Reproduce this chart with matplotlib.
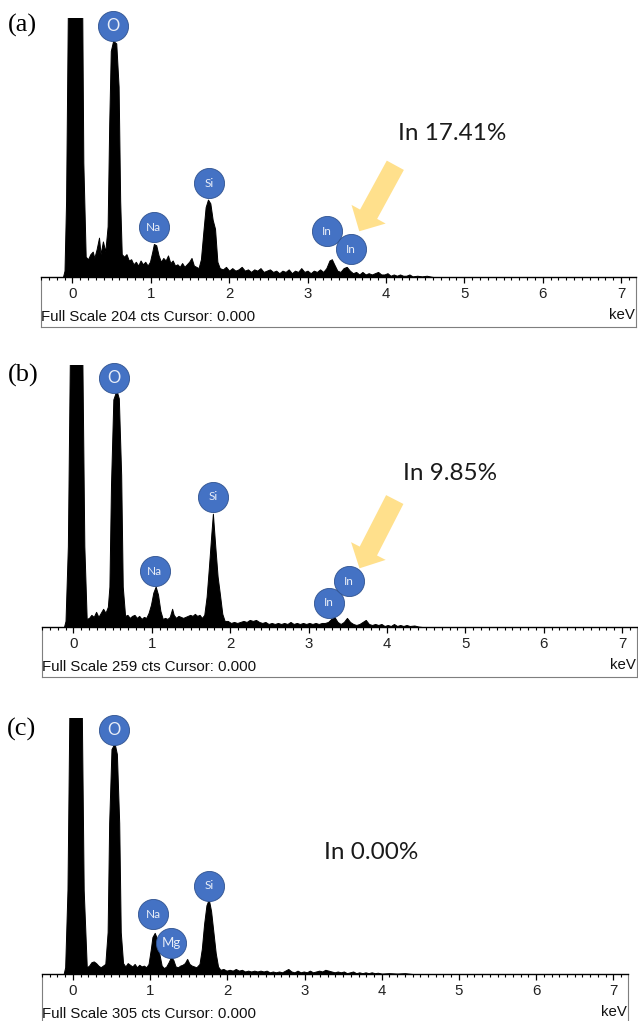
import matplotlib.pyplot as plt

plt.rcParams['font.family'] = 'Liberation Sans'

W, H = 638, 1021

# espectro EDS (a)
energia_a = [-0.12, -0.10, -0.08, -0.05, 0.12, 0.14, 0.17, 0.20, 0.23, 0.26, 0.28, 0.31, 0.34, 0.36, 0.39, 0.42,
             0.45, 0.47, 0.49, 0.52, 0.56, 0.59, 0.61, 0.63, 0.66, 0.69, 0.72, 0.75, 0.78, 0.81, 0.84, 0.87,
             0.90, 0.93, 0.96, 0.99, 1.02, 1.04, 1.07, 1.10, 1.13, 1.16, 1.19, 1.22, 1.25, 1.28, 1.31, 1.34,
             1.37, 1.40, 1.43, 1.46, 1.49, 1.52, 1.55, 1.58, 1.61, 1.64, 1.67, 1.70, 1.73, 1.76, 1.79, 1.82,
             1.85, 1.88, 1.92, 1.96, 2.00, 2.04, 2.08, 2.12, 2.16, 2.20, 2.24, 2.28, 2.32, 2.36, 2.40, 2.44,
             2.48, 2.52, 2.56, 2.60, 2.64, 2.68, 2.72, 2.76, 2.80, 2.84, 2.88, 2.92, 2.96, 3.00, 3.04, 3.08,
             3.12, 3.16, 3.20, 3.24, 3.28, 3.31, 3.34, 3.38, 3.42, 3.46, 3.50, 3.54, 3.58, 3.62, 3.66, 3.70,
             3.74, 3.78, 3.82, 3.86, 3.90, 3.94, 3.98, 4.02, 4.06, 4.10, 4.14, 4.18, 4.22, 4.26, 4.30, 4.34,
             4.40, 4.46, 4.52, 4.60]
cuentas_a = [0, 5, 60, 260, 260, 90, 16, 14, 18, 20, 15, 22, 31, 18, 28, 20,
             40, 120, 178, 186, 184, 150, 60, 18, 16, 18, 13, 14, 10, 12, 9, 13,
             10, 12, 9, 12, 20, 26, 25, 17, 12, 15, 13, 17, 11, 13, 9, 10,
             8, 11, 8, 10, 12, 15, 9, 8, 7, 14, 35, 55, 61, 58, 45, 38,
             12, 7, 6, 8, 5, 7, 5, 6, 8, 5, 6, 4, 6, 5, 7, 4,
             5, 6, 4, 5, 3, 5, 4, 6, 3, 5, 4, 7, 4, 5, 3, 5,
             4, 6, 4, 7, 13, 14, 10, 5, 4, 7, 8, 5, 3, 4, 2, 4,
             2, 3, 2, 3, 4, 2, 2, 3, 1, 2, 1, 2, 1, 1, 2, 0.5,
             1, 0.5, 1, 0]

# espectro EDS (b)
energia_b = [-0.12, -0.10, -0.07, -0.04, 0.11, 0.14, 0.17, 0.20, 0.23, 0.26, 0.29, 0.32, 0.35, 0.38, 0.41, 0.44,
             0.46, 0.48, 0.51, 0.55, 0.58, 0.61, 0.63, 0.66, 0.69, 0.72, 0.75, 0.78, 0.81, 0.84, 0.87, 0.90,
             0.93, 0.96, 0.99, 1.02, 1.05, 1.08, 1.11, 1.14, 1.17, 1.20, 1.23, 1.26, 1.28, 1.31, 1.34, 1.37,
             1.40, 1.43, 1.46, 1.49, 1.52, 1.55, 1.58, 1.61, 1.64, 1.67, 1.70, 1.73, 1.76, 1.78, 1.81, 1.84,
             1.87, 1.90, 1.93, 1.97, 2.01, 2.05, 2.09, 2.13, 2.17, 2.21, 2.25, 2.29, 2.33, 2.37, 2.41, 2.45,
             2.49, 2.53, 2.57, 2.61, 2.65, 2.69, 2.73, 2.77, 2.81, 2.85, 2.89, 2.93, 2.97, 3.01, 3.05, 3.09,
             3.13, 3.17, 3.21, 3.25, 3.29, 3.33, 3.37, 3.41, 3.45, 3.49, 3.53, 3.57, 3.61, 3.65, 3.69, 3.73,
             3.77, 3.81, 3.85, 3.89, 3.93, 3.97, 4.01, 4.05, 4.09, 4.13, 4.17, 4.21, 4.25, 4.29, 4.35, 4.40,
             4.45]
cuentas_b = [0, 6, 80, 300, 300, 80, 8, 9, 12, 10, 15, 10, 14, 18, 14, 20,
             40, 140, 225, 234, 226, 150, 40, 11, 12, 9, 11, 12, 9, 11, 8, 10,
             9, 14, 22, 34, 40, 32, 16, 8, 9, 8, 10, 18, 12, 9, 11, 10,
             9, 10, 11, 12, 11, 13, 11, 12, 9, 12, 30, 60, 92, 112, 80, 50,
             32, 13, 6, 6, 4, 5, 4, 5, 6, 5, 7, 6, 7, 5, 4, 5,
             3, 4, 3, 4, 3, 4, 3, 5, 3, 4, 3, 4, 3, 4, 3, 4,
             3, 4, 4, 5, 8, 10, 5, 3, 5, 9, 5, 3, 2, 3, 5, 7,
             3, 2, 3, 2, 3, 1, 2, 1, 3, 1, 2, 1, 2, 1, 1.5, 0.5,
             0]

# espectro EDS (c)
energia_c = [-0.12, -0.10, -0.07, -0.04, 0.11, 0.14, 0.18, 0.21, 0.24, 0.27, 0.30, 0.33, 0.36, 0.39, 0.42, 0.45,
             0.47, 0.50, 0.54, 0.57, 0.60, 0.62, 0.65, 0.68, 0.71, 0.74, 0.77, 0.80, 0.83, 0.86, 0.89, 0.92,
             0.95, 0.98, 1.01, 1.03, 1.06, 1.09, 1.12, 1.15, 1.18, 1.21, 1.24, 1.27, 1.30, 1.33, 1.36, 1.39,
             1.42, 1.45, 1.48, 1.51, 1.54, 1.57, 1.60, 1.64, 1.67, 1.70, 1.73, 1.76, 1.79, 1.82, 1.85, 1.88,
             1.91, 1.95, 1.99, 2.03, 2.07, 2.11, 2.15, 2.19, 2.23, 2.27, 2.31, 2.35, 2.39, 2.43, 2.47, 2.51,
             2.55, 2.59, 2.63, 2.67, 2.71, 2.75, 2.79, 2.83, 2.87, 2.91, 2.95, 2.99, 3.03, 3.07, 3.11, 3.15,
             3.19, 3.23, 3.27, 3.31, 3.35, 3.39, 3.43, 3.47, 3.51, 3.55, 3.59, 3.63, 3.67, 3.71, 3.75, 3.79,
             3.83, 3.87, 3.91, 3.95, 4.00, 4.10, 4.20, 4.30, 4.40]
cuentas_c = [0, 8, 100, 360, 360, 100, 8, 10, 14, 15, 13, 10, 8, 10, 12, 50,
             180, 268, 275, 262, 180, 50, 13, 9, 13, 11, 9, 12, 8, 11, 9, 10,
             8, 12, 30, 44, 49, 42, 24, 10, 7, 9, 14, 20, 17, 9, 8, 10,
             11, 13, 18, 12, 10, 9, 8, 12, 30, 60, 82, 89, 75, 50, 25, 9,
             5, 6, 4, 5, 4, 6, 4, 5, 3, 4, 3, 4, 3, 4, 3, 4,
             2, 3, 2, 3, 2, 4, 6, 3, 2, 4, 2, 3, 2, 4, 2, 3,
             4, 3, 5, 4, 3, 2, 3, 2, 3, 1, 2, 3, 1, 2, 1, 2,
             1, 2, 1, 1.5, 0.5, 1, 0.5, 1, 0]

escala = [204, 259, 305]
paneles = ["(a)", "(b)", "(c)"]
textos_in = ["In 17.41%", "In 9.85%", "In 0.00%"]

# etiquetas de elementos: (texto, keV, cuentas, tamaño letra)
elementos_a = [("O", 0.52, 198, 12), ("Na", 1.04, 39, 8.5), ("Si", 1.74, 74, 8.5),
               ("In", 3.25, 36, 8.5), ("In", 3.55, 22, 8.5)]
elementos_b = [("O", 0.52, 246, 12), ("Na", 1.04, 55, 8.5), ("Si", 1.78, 129, 8.5),
               ("In", 3.26, 24, 8.5), ("In", 3.52, 45, 8.5)]
elementos_c = [("O", 0.53, 291, 12), ("Na", 1.04, 71, 8.5), ("Mg", 1.27, 37, 9.5),
               ("Si", 1.76, 105, 8.5)]

AZUL = '#4472C4'
AMARILLO = '#FFE08C'

fig = plt.figure(figsize=(W / 100, H / 100), dpi=100)
fig.patch.set_facecolor('white')


def dibuja_panel(izq, der, arriba, base, abajo, energia, cuentas, full, elementos):
    # caja inferior del software EDS
    caja = fig.add_axes([izq / W, 1 - abajo / H, (der - izq) / W, (abajo - base) / H])
    caja.set_xticks([])
    caja.set_yticks([])
    caja.set_facecolor('none')
    caja.spines['top'].set_visible(False)
    for s in ['left', 'right', 'bottom']:
        caja.spines[s].set_color('#7f7f7f')
        caja.spines[s].set_linewidth(0.8)
    caja.text(0.0, 1 - 40 / (abajo - base), f"Full Scale {full} cts Cursor: 0.000",
              transform=caja.transAxes, ha='left', va='center', fontsize=10.8, color='#111111')
    caja.text(0.998, 1 - 38 / (abajo - base), "keV", transform=caja.transAxes,
              ha='right', va='center', fontsize=10.8, color='#111111')

    ax = fig.add_axes([izq / W, 1 - base / H, (der - izq) / W, (base - arriba) / H])
    ax.set_facecolor('none')
    ax.fill_between(energia, cuentas, 0, color='black', lw=0.7)
    ax.set_xlim(-0.40, 7.19)
    ax.set_ylim(0, full)
    for s in ['left', 'right', 'top']:
        ax.spines[s].set_visible(False)
    ax.spines['bottom'].set_linewidth(1.0)
    ax.set_yticks([])
    ax.set_xticks(range(8))
    ax.set_xticks([i / 10 for i in range(-4, 72)], minor=True)
    ax.tick_params(axis='x', which='major', length=4.5, width=0.9, pad=3, labelsize=10.8,
                   labelcolor='#222222')
    ax.tick_params(axis='x', which='minor', length=2.3, width=0.8)

    for nombre, x, y, tam in elementos:
        ax.scatter([x], [y], s=470, color=AZUL, edgecolors='#2F528F', linewidths=0.6,
                   zorder=5, clip_on=False)
        ax.text(x, y, nombre, ha='center', va='center', color='#E9EEF8', fontsize=tam,
                family='Lato', zorder=6, clip_on=False)
    return ax


ax_a = dibuja_panel(41, 636, 18, 277, 327, energia_a, cuentas_a, escala[0], elementos_a)
ax_b = dibuja_panel(42, 637, 365, 627, 677, energia_b, cuentas_b, escala[1], elementos_b)
ax_c = dibuja_panel(42, 628, 718, 974, 1024, energia_c, cuentas_c, escala[2], elementos_c)

# porcentaje de In y flechas
estilo = 'simple,head_length=1.0,head_width=2.0,tail_width=1.0'
ax_a.text(4.84, 113, textos_in[0], ha='center', va='center', fontsize=17.5, family='Lato', color='#1a1a1a')
ax_a.annotate("", xy=(3.66, 36), xytext=(4.12, 88),
              arrowprops=dict(arrowstyle=estilo, mutation_scale=14, fc=AMARILLO, ec='none',
                              shrinkA=0, shrinkB=0))
ax_b.text(4.80, 152, textos_in[1], ha='center', va='center', fontsize=17.5, family='Lato', color='#1a1a1a')
ax_b.annotate("", xy=(3.65, 58), xytext=(4.10, 126),
              arrowprops=dict(arrowstyle=estilo, mutation_scale=14, fc=AMARILLO, ec='none',
                              shrinkA=0, shrinkB=0))
ax_c.text(3.87, 145, textos_in[2], ha='center', va='center', fontsize=17.5, family='Lato', color='#1a1a1a')

for etiqueta, (xp, yp) in zip(paneles, [(22, 25), (23, 375), (22, 729)]):
    fig.text(xp / W, 1 - yp / H, etiqueta, ha='center', va='center', fontsize=19,
             family='Liberation Serif')

fig.savefig('out.png', dpi=100)
